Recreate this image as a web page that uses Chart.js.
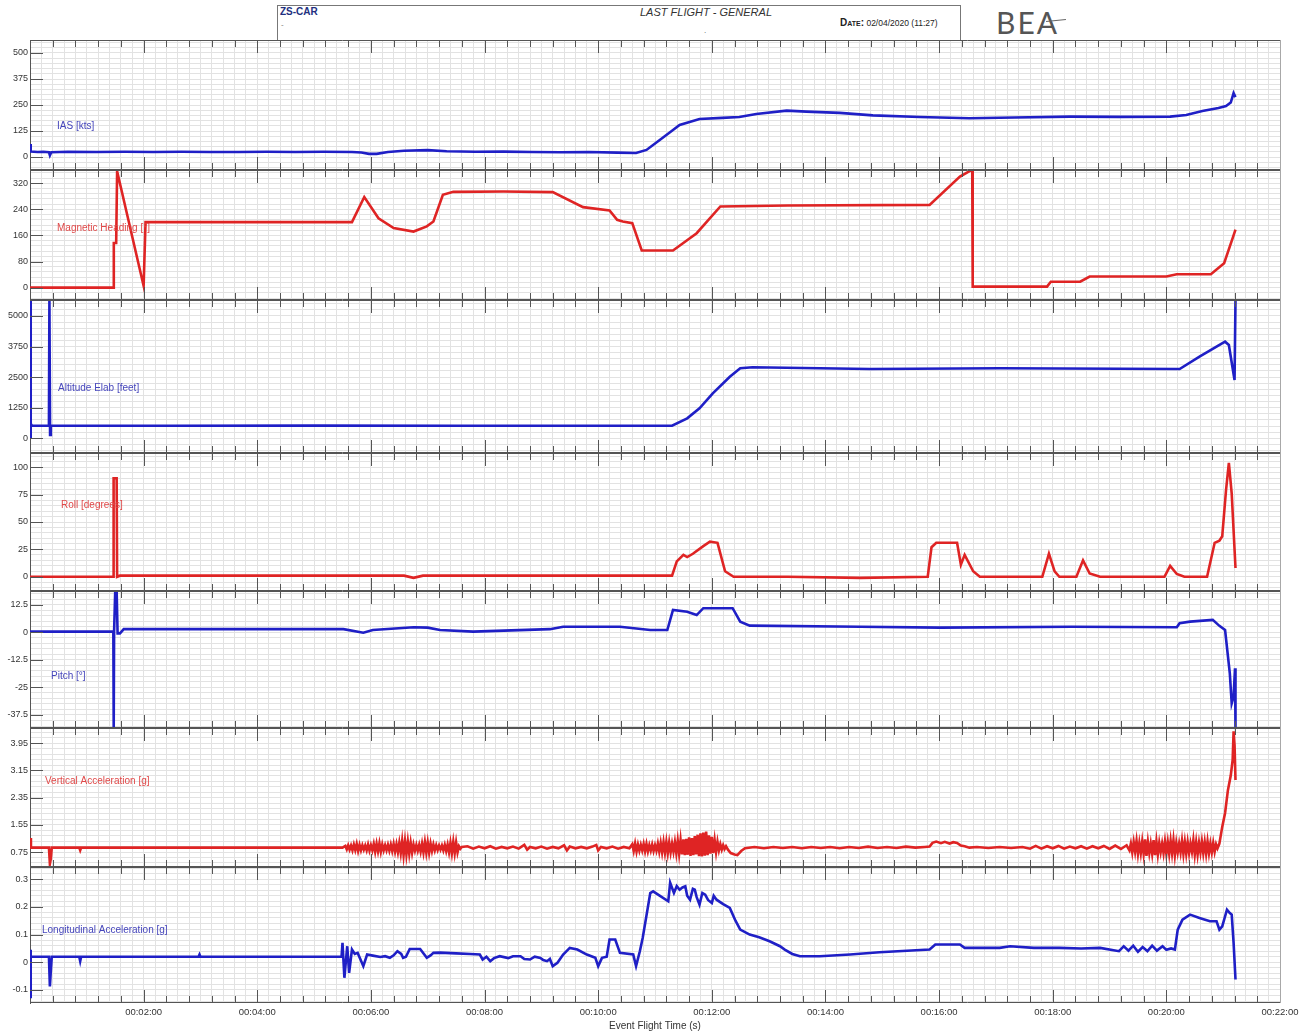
<!DOCTYPE html>
<html>
<head>
<meta charset="utf-8">
<script src="https://cdn.jsdelivr.net/npm/chart.js@4.4.1/dist/chart.umd.min.js"></script>
<style>
  body { margin: 0; background: #fff; width: 1309px; height: 1036px; position: relative; overflow: hidden;
         font-family: 'Liberation Sans', Arial, sans-serif; }
  .txt { position: absolute; white-space: nowrap; }
</style>
</head>
<body>
<div class="txt" style="left:277px;top:5px;width:684px;height:35px;border:1px solid #777;border-bottom:none;box-sizing:border-box"></div>
<div class="txt" style="left:280px;top:6px;font-weight:bold;font-size:10px;color:#22307f">ZS-CAR</div>
<div class="txt" style="left:281px;top:20px;font-size:8px;color:#777">-</div>
<div class="txt" style="left:606px;top:6px;width:200px;text-align:center;font-style:italic;font-size:11px;color:#333">LAST FLIGHT - GENERAL</div>
<div class="txt" style="left:704px;top:26px;font-size:8px;color:#555">.</div>
<div class="txt" style="left:840px;top:17px;font-size:8.5px;color:#222"><b style="font-variant:small-caps;font-size:10px">Date:</b> 02/04/2020 (11:27)</div>
<div class="txt" style="left:996px;top:4px;font-family:Lato,'Open Sans',sans-serif;font-weight:400;font-size:30px;letter-spacing:2px;color:#555">BEA</div>
<div class="txt" style="left:1046px;top:20px;width:20px;height:1px;background:#666;transform:rotate(-6deg)"></div>

<script>
// time axis labels (every 2 minutes)
const timeTickLabels = ['00:02:00', '00:04:00', '00:06:00', '00:08:00', '00:10:00', '00:12:00',
                        '00:14:00', '00:16:00', '00:18:00', '00:20:00', '00:22:00'];

// IAS [kts]
const iasT = [0, 0.5, 1, 8, 14, 20, 21, 22.5, 40, 70, 100, 130, 160, 190, 220, 250, 280, 310, 340,
  350, 358, 366, 378, 395, 420, 440, 470, 500, 530, 560, 590, 620, 640,
  651, 665, 679, 686, 707, 731, 749, 767, 799, 820, 855, 890, 940, 992, 1040, 1098, 1150, 1204, 1221, 1238, 1255, 1263, 1268, 1271, 1273];
const iasV = [62, 25, 26, 24, 25, 23, 8, 23, 25, 24, 25, 24, 25, 24, 24, 25, 24, 25, 24,
  22, 15, 15, 24, 30, 33, 28, 25, 26, 24, 23, 24, 21, 19,
  34, 82, 130, 154, 183, 188, 192, 207, 223, 218, 212, 200, 192, 186, 190, 194, 193, 194, 202, 221, 236, 245, 262, 307, 288];
const iasTicks = [0, 125, 250, 375, 500];

// Magnetic heading [deg]
const hdgT = [0, 88, 88.5, 91, 92, 120, 122, 340, 353, 368, 384, 405, 419, 426, 436, 447,
  500, 552, 584, 612, 620, 626, 636, 646, 679, 704, 729, 800, 950, 982, 995, 995.5,
  1074, 1078, 1109, 1119, 1200, 1211, 1247, 1261, 1270, 1273];
const hdgV = [0, 0, 137, 137, 357, 5, 201, 201, 278, 213, 183, 172, 188, 203, 285, 294,
  295, 293, 247, 237, 208, 203, 198, 114, 114, 167, 249, 252, 254, 341, 362, 3,
  3, 18, 18, 34, 34, 41, 41, 75, 152, 178];
const hdgTicks = [0, 80, 160, 240, 320];

// Altitude Elab [feet]
const altT = [0, 0.5, 1, 2, 20, 20.5, 21.2, 22, 150, 300, 450, 600, 678,
  694, 707, 721, 739, 750, 763, 887, 1024, 1214, 1235, 1262, 1266, 1272, 1273];
const altV = [5650, 0, 600, 515, 515, 5650, 140, 515, 515, 520, 515, 515, 515,
  817, 1225, 1838, 2516, 2860, 2900, 2831, 2860, 2831, 3333, 3946, 3811, 2382, 5650];
const altTicks = [0, 1250, 2500, 3750, 5000];

// Roll [degrees]
const rollT = [0, 88, 88.3, 91.5, 92, 95, 200, 300, 395, 405, 415, 500, 600,
  678, 683, 690, 694, 700, 711, 718, 726, 734, 743, 800, 877, 948, 952, 957, 979, 983, 987, 996, 1003,
  1069, 1076, 1082, 1087, 1105, 1112, 1119, 1130, 1198, 1204, 1211, 1219, 1243, 1251, 1256, 1259, 1263, 1266, 1269, 1273];
const rollV = [0, 0, 90, 90, 0, 1, 1, 1, 1, -1, 1, 1, 1,
  1, 14, 20, 18, 21, 28, 32, 31, 5, 0, 0, -1, 0, 27, 31, 31, 11, 20, 5, 0,
  0, 21, 5, 0, 0, 15, 3, 0, 0, 10, 2.5, 0, 0, 31, 33, 37, 79, 104, 76, 8];
const rollTicks = [0, 25, 50, 75, 100];

// Pitch [deg]
const pitchT = [0, 88, 88.4, 88.8, 90, 91.5, 92.5, 95, 99, 200, 331, 352, 362, 405, 420, 433, 468, 549, 563, 623, 655,
  673, 679, 694, 704, 711, 742, 750, 760, 877, 961, 1100, 1211, 1214, 1225, 1249, 1256, 1262, 1267, 1269, 1271, 1272.5, 1273];
const pitchV = [0.3, 0.3, -43.4, 0.3, 18.7, 18.7, -0.5, -0.5, 1.4, 1.4, 1.4, -0.2, 1, 2.3, 2.1, 1, 0.3, 1.4, 2.5, 2.5, 1,
  1, 10.1, 9.3, 7.8, 10.9, 10.9, 4.8, 3, 2.5, 2.1, 2.5, 2.3, 4.1, 4.8, 5.6, 2.9, 1, -18.6, -32.2, -29.2, -16.3, -43.4];
const pitchTicks = [-37.5, -25, -12.5, 0, 12.5];

// Vertical acceleration [g]: quiet stretches with explicit times,
// turbulent bursts sampled every 1.5 s
const vaccStep = 1.5;
const vaccPreT = [0, 1, 20, 21, 22, 23, 52, 53, 54, 330];
const vaccPreV = [1.16, 0.88, 0.88, 0.40, 0.55, 0.88, 0.88, 0.80, 0.88, 0.88];
const vaccBurst1Start = 333;
const vaccBurst1 = [0.93, 0.83, 0.95, 0.82, 0.94, 0.80, 0.97, 0.81, 0.99, 0.78,
  0.96, 0.80, 0.95, 0.82, 0.94, 0.80, 0.97, 0.79, 0.95, 0.80,
  0.99, 0.76, 1.00, 0.77, 1.01, 0.76, 0.97, 0.80, 0.95, 0.80,
  0.96, 0.79, 0.97, 0.78, 0.99, 0.76, 0.98, 0.75, 1.02, 0.72,
  1.08, 0.66, 1.07, 0.68, 1.06, 0.70, 1.02, 0.73, 0.97, 0.79,
  0.96, 0.79, 0.96, 0.76, 1.00, 0.74, 1.04, 0.73, 1.03, 0.73,
  1.00, 0.78, 0.97, 0.80, 0.95, 0.81, 0.94, 0.82, 0.94, 0.80,
  0.96, 0.78, 0.97, 0.74, 1.02, 0.72, 1.05, 0.72, 1.03, 0.74,
  0.92, 0.85, 0.90];
const vaccMidT = [462, 468, 474, 480, 486, 492, 498, 504, 510, 516, 522, 525, 528, 534, 540, 546, 552, 558, 564, 567, 570,
  576, 582, 588, 594, 598, 600, 603, 609, 615, 621, 627, 633];
const vaccMidV = [0.92, 0.85, 0.91, 0.86, 0.92, 0.85, 0.90, 0.86, 0.91, 0.85, 0.96, 0.82, 0.90, 0.86, 0.91, 0.85, 0.90, 0.86, 0.95, 0.80, 0.91,
  0.86, 0.90, 0.86, 0.91, 0.96, 0.80, 0.90, 0.86, 0.91, 0.85, 0.90, 0.86];
const vaccBurst2Start = 636;
const vaccBurst2 = [0.98, 0.78, 1.00, 0.76, 0.97, 0.79, 0.96, 0.80, 0.99, 0.77,
  0.99, 0.77, 0.95, 0.79, 0.97, 0.78, 0.95, 0.79, 1.00, 0.76,
  1.02, 0.74, 1.04, 0.73, 1.05, 0.72, 1.03, 0.74, 1.00, 0.76,
  1.04, 0.72, 1.08, 0.70, 1.10, 0.68, 1.12, 0.66, 1.14, 0.67,
  1.18, 0.64, 1.16, 0.66, 1.22, 0.68, 1.26, 0.63, 1.30, 0.62,
  1.32, 0.64, 1.35, 0.66, 1.24, 0.70, 1.20, 0.72, 1.10, 0.75,
  1.05, 0.80, 0.98, 0.82, 0.95, 0.84, 0.92];
const vaccLateT = [737, 740, 744, 747, 751, 755,
  765, 775, 785, 795, 805, 815, 825, 835, 845, 855, 865, 875, 885, 895, 905, 915, 925, 935, 945,
  950, 953, 957, 962, 966, 971, 975, 979, 983, 987, 992, 1000, 1012, 1024, 1036, 1048,
  1056, 1062, 1068, 1074, 1080, 1086, 1092, 1098, 1104, 1110, 1116, 1122, 1128, 1134, 1140, 1146, 1152, 1158];
const vaccLateV = [0.82, 0.72, 0.68, 0.66, 0.78, 0.86,
  0.90, 0.86, 0.90, 0.87, 0.90, 0.86, 0.90, 0.87, 0.90, 0.86, 0.90, 0.87, 0.91, 0.87, 0.90, 0.87, 0.91, 0.88, 0.90,
  0.91, 1.02, 1.06, 1.01, 1.05, 1.00, 1.04, 1.02, 0.94, 0.92, 0.88, 0.90, 0.87, 0.90, 0.87, 0.90,
  0.85, 0.93, 0.85, 0.92, 0.86, 0.93, 0.85, 0.91, 0.86, 0.92, 0.85, 0.92, 0.86, 0.93, 0.84, 0.94, 0.84, 0.95];
const vaccBurst3Start = 1161;
const vaccBurst3 = [0.80, 1.00, 0.74, 1.04, 0.76, 1.08, 0.70, 1.02, 0.72, 1.06,
  0.70, 1.12, 0.64, 1.05, 0.72, 1.00, 0.70, 1.10, 0.66, 1.06,
  0.68, 1.02, 0.75, 1.00, 0.72, 1.06, 0.70, 1.04, 0.70, 1.08,
  0.72, 1.10, 0.66, 1.02, 0.74, 1.00, 0.74, 1.08, 0.70, 1.05,
  0.70, 1.04, 0.72, 1.00, 0.76, 1.10, 0.68, 1.04, 0.68, 1.02,
  0.74, 1.06, 0.72, 1.04, 0.70, 1.06, 0.72, 1.00, 0.74, 1.02,
  0.76, 0.98, 0.86];
const vaccEndT = [1256, 1259, 1262, 1265, 1268, 1270, 1271, 1272, 1273];
const vaccEndV = [1.00, 1.49, 1.90, 2.57, 3.00, 3.46, 4.30, 3.90, 2.87];
const vaccTicks = [0.75, 1.55, 2.35, 3.15, 3.95];

// Longitudinal acceleration [g]
const longT = [0, 0.5, 1, 20, 21, 22, 23, 52, 53, 54,
  178, 179, 180, 329, 330, 332, 335, 337, 340, 343,
  346, 349, 352, 356, 362, 370, 375, 380, 384, 388,
  392, 394, 397, 401, 412, 416, 419, 423, 426, 433,
  450, 465, 475, 478, 482, 486, 490, 496, 505, 510,
  518, 522, 528, 533, 539, 542, 546, 549, 552, 557,
  563, 570, 578, 588, 597, 600, 604, 609, 612, 618,
  623, 637, 640, 644, 647, 655, 658, 674, 676, 680,
  683, 686, 689, 692, 694, 697, 700, 702, 704, 707,
  710, 713, 716, 720, 722, 725, 732, 739, 745, 750,
  760, 770, 781, 792, 797, 805, 813, 834, 866, 897,
  950, 956, 982, 987, 1024, 1035, 1060, 1087, 1110, 1130,
  1150, 1155, 1160, 1165, 1170, 1175, 1180, 1185, 1190, 1196,
  1200, 1205, 1209, 1212, 1217, 1225, 1235, 1246, 1253, 1256,
  1259, 1264, 1267, 1269, 1271, 1273];
const longV = [0.045, -0.13, 0.02, 0.02, -0.087, -0.03, 0.02, 0.02, 0.004, 0.02,
  0.02, 0.028, 0.02, 0.02, 0.07, -0.056, 0.058, -0.038, 0.046, 0.03,
  0.034, 0.01, -0.014, 0.028, 0.024, 0.019, 0.022, 0.016, 0.025, 0.04,
  0.03, 0.016, 0.02, 0.048, 0.048, 0.03, 0.016, 0.025, 0.034, 0.035,
  0.032, 0.03, 0.028, 0.01, 0.02, 0.004, 0.015, 0.022, 0.015, 0.022,
  0.022, 0.012, 0.01, 0.02, 0.016, 0.008, 0.004, 0.012, -0.014, -0.002,
  0.028, 0.052, 0.046, 0.028, 0.016, -0.014, 0.016, 0.02, 0.082, 0.082,
  0.034, 0.028, -0.014, 0.04, 0.088, 0.25, 0.256, 0.22, 0.287, 0.25,
  0.275, 0.262, 0.27, 0.274, 0.24, 0.226, 0.265, 0.262, 0.235, 0.208,
  0.25, 0.244, 0.225, 0.214, 0.24, 0.226, 0.21, 0.196, 0.15, 0.118,
  0.1, 0.09, 0.076, 0.058, 0.046, 0.03, 0.022, 0.022, 0.028, 0.036,
  0.046, 0.064, 0.064, 0.052, 0.052, 0.058, 0.052, 0.052, 0.05, 0.052,
  0.04, 0.058, 0.042, 0.06, 0.038, 0.055, 0.04, 0.06, 0.042, 0.058,
  0.045, 0.05, 0.046, 0.118, 0.154, 0.172, 0.16, 0.148, 0.148, 0.118,
  0.13, 0.19, 0.178, 0.172, 0.07, -0.062];
const longTicks = [-0.1, 0, 0.1, 0.2, 0.3];

// assemble the vertical acceleration series in time order
const pairs = (ts, vs) => ts.map((t, k) => ({ x: t, y: vs[k] }));
const burst = (start, vs) => vs.map((v, k) => ({ x: start + k * vaccStep, y: v }));
const vaccPoints = [].concat(
  pairs(vaccPreT, vaccPreV), burst(vaccBurst1Start, vaccBurst1),
  pairs(vaccMidT, vaccMidV), burst(vaccBurst2Start, vaccBurst2),
  pairs(vaccLateT, vaccLateV), burst(vaccBurst3Start, vaccBurst3),
  pairs(vaccEndT, vaccEndV));

const BLUE = '#1f1fc6';
const RED = '#df2424';
const FONT = "'Liberation Sans', Arial, sans-serif";

// panel edges on the page (top of each panel, last = bottom of last panel)
const edges = [40, 170, 300, 453, 591, 728, 867, 1003];

const panels = [
  { pts: pairs(iasT, iasV), color: BLUE, min: -62.5, max: 562.5, ticks: iasTicks, step: 25, fmt: v => String(v),
    name: 'IAS [kts]', nx: 57, ny: 126, nc: '#4545bb' },
  { pts: pairs(hdgT, hdgV), color: RED, min: -38, max: 361, ticks: hdgTicks, step: 16, fmt: v => String(v),
    name: 'Magnetic Heading [°]', nx: 57, ny: 228, nc: '#e04848' },
  { pts: pairs(altT, altV), color: BLUE, min: -600, max: 5650, ticks: altTicks, step: 250, fmt: v => String(v),
    name: 'Altitude Elab [feet]', nx: 58, ny: 388, nc: '#4545bb' },
  { pts: pairs(rollT, rollV), color: RED, min: -13, max: 113, ticks: rollTicks, step: 5, fmt: v => String(v),
    name: 'Roll [degrees]', nx: 61, ny: 505, nc: '#e04848' },
  { pts: pairs(pitchT, pitchV), color: BLUE, min: -43.4, max: 18.7, ticks: pitchTicks, step: 2.5, fmt: v => String(v),
    name: 'Pitch [°]', nx: 51, ny: 676, nc: '#4545bb' },
  { pts: vaccPoints, color: RED, min: 0.31, max: 4.4, ticks: vaccTicks, step: 0.16, fmt: v => v.toFixed(2),
    name: 'Vertical Acceleration [g]', nx: 45, ny: 781, nc: '#e04848' },
  { pts: pairs(longT, longV), color: BLUE, min: -0.147, max: 0.344, ticks: longTicks, step: 0.02, fmt: v => String(v),
    name: 'Longitudinal Acceleration [g]', nx: 42, ny: 930, nc: '#4545bb' }
];

// vertical grid every 12 s
const xGrid = [];
for (let t = 0; t <= 1320; t += 12) xGrid.push(t);

// frame, inward time ticks, y tick dashes and the panel name
const panelDeco = {
  id: 'panelDeco',
  afterDraw(chart, args, o) {
    const { ctx, chartArea: a } = chart;
    const xs = chart.scales.x, ys = chart.scales.y;
    ctx.save();
    ctx.lineWidth = 1;
    ctx.strokeStyle = '#a8a8a8';
    ctx.beginPath();
    ctx.moveTo(a.right + 0.5, a.top);
    ctx.lineTo(a.right + 0.5, a.bottom);
    ctx.stroke();

    ctx.strokeStyle = '#555';
    ctx.beginPath();
    ctx.moveTo(a.left, a.top + 0.5); ctx.lineTo(a.right, a.top + 0.5);
    ctx.moveTo(a.left, a.bottom - 0.5); ctx.lineTo(a.right, a.bottom - 0.5);
    for (let t = 24; t < 1320; t += 24) {
      const px = Math.round(xs.getPixelForValue(t)) + 0.5;
      const len = t % 120 === 0 ? 13 : 7;
      ctx.moveTo(px, a.top); ctx.lineTo(px, a.top + len);
      ctx.moveTo(px, a.bottom); ctx.lineTo(px, a.bottom - len);
    }
    o.ticks.forEach(v => {
      const py = Math.round(ys.getPixelForValue(v)) + 0.5;
      ctx.moveTo(a.left, py); ctx.lineTo(a.left + 13, py);
    });
    ctx.stroke();

    ctx.font = '10px ' + FONT;
    ctx.fillStyle = o.color;
    ctx.textBaseline = 'middle';
    ctx.fillText(o.name, o.x, o.y);
    ctx.restore();
  }
};

panels.forEach((p, i) => {
  const last = i === panels.length - 1;
  const top = edges[i] - 8;
  const h = edges[i + 1] - edges[i] + 8 + (last ? 33 : 8);

  const canvas = document.createElement('canvas');
  canvas.width = 1309;
  canvas.height = h;
  canvas.style.cssText = `position:absolute;left:0;top:${top}px`;
  document.body.appendChild(canvas);

  // fine horizontal grid: 5 lines per labelled step
  const t0 = p.ticks[0];
  const kFrom = Math.ceil((p.min - t0) / p.step - 1e-6);
  const kTo = Math.floor((p.max - t0) / p.step + 1e-6);
  const yGrid = [];
  for (let k = kFrom; k <= kTo; k++) yGrid.push(+(t0 + k * p.step).toFixed(6));

  new Chart(canvas, {
    type: 'line',
    data: {
      datasets: [{
        data: p.pts,
        borderColor: p.color,
        borderWidth: 2.6,
        pointRadius: 0,
        tension: 0
      }]
    },
    options: {
      responsive: false,
      animation: false,
      events: [],
      layout: { padding: { top: 8, bottom: last ? 0 : 8, left: 0, right: 29 } },
      plugins: {
        legend: { display: false },
        tooltip: { enabled: false },
        panelDeco: { ticks: p.ticks, name: p.name, color: p.nc, x: p.nx, y: p.ny - top }
      },
      scales: {
        x: {
          type: 'linear',
          min: 0,
          max: 1320,
          afterBuildTicks: s => { s.ticks = xGrid.map(v => ({ value: v })); },
          afterFit: s => { s.height = last ? 33 : 0; },
          grid: { color: '#e2e2e2', drawTicks: false },
          border: { display: false },
          ticks: {
            display: last,
            autoSkip: false,
            maxRotation: 0,
            padding: 4,
            color: '#333',
            font: { family: "'Liberation Sans Narrow', " + FONT, size: 9.5 },
            callback: v => (v > 0 && v % 120 === 0) ? timeTickLabels[v / 120 - 1] : ''
          },
          title: {
            display: last,
            text: 'Event Flight Time (s)',
            color: '#333',
            font: { family: FONT, size: 10 },
            padding: { top: 0, bottom: 4 }
          }
        },
        y: {
          min: p.min,
          max: p.max,
          afterBuildTicks: s => { s.ticks = yGrid.map(v => ({ value: v })); },
          afterFit: s => { s.width = 30; },
          grid: { color: '#e2e2e2', drawTicks: false },
          border: { display: true, color: '#555' },
          ticks: {
            autoSkip: false,
            padding: 2,
            color: '#333',
            font: { family: FONT, size: 9 },
            callback: v => {
              const j = p.ticks.findIndex(tv => Math.abs(tv - v) < p.step / 10);
              return j >= 0 ? p.fmt(p.ticks[j]) : '';
            }
          }
        }
      }
    },
    plugins: [panelDeco]
  });
});
</script>
</body>
</html>
